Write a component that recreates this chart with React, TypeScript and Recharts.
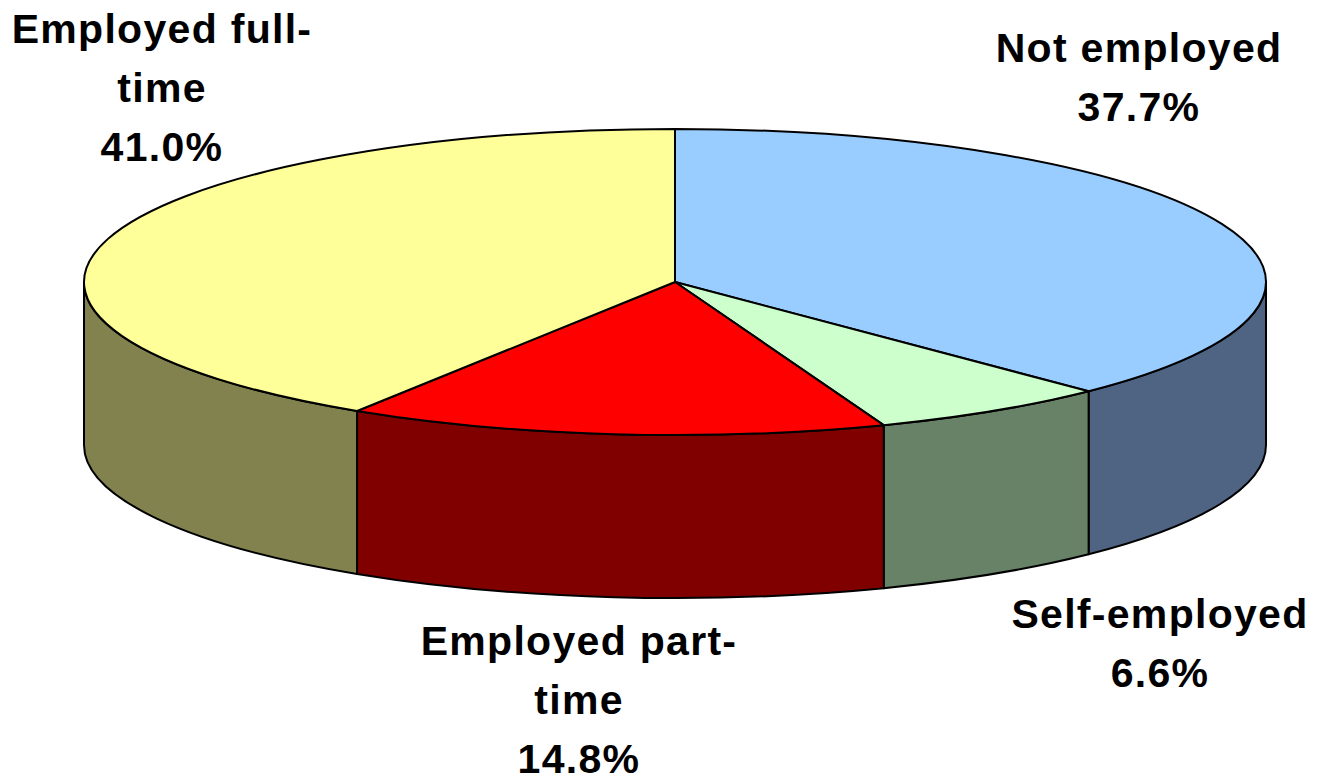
import React from "react";
import { PieChart, Pie, Cell } from "recharts";

const categories = ["Not employed", "Self-employed", "Employed part-time", "Employed full-time"];
const shares = [37.7, 6.6, 14.8, 41.0];
const topColors = ["#99CCFF", "#CCFFCC", "#FF0000", "#FFFF99"];
const wallColors = ["#4F6483", "#678267", "#800000", "#82824E"];
const labelLines = [
  ["Not employed", "37.7%"],
  ["Self-employed", "6.6%"],
  ["Employed part-", "time", "14.8%"],
  ["Employed full-", "time", "41.0%"],
];
const labelAnchors = [
  { x: 1139, y: 62 },
  { x: 1160, y: 628 },
  { x: 579, y: 655 },
  { x: 162, y: 43 },
];

const data = categories.map((name, i) => ({ name, value: shares[i] }));

const WIDTH = 1318;
const HEIGHT = 776;
const CX = 675;
const CY = 282;
const RX = 591;
const RY = 153;
const DEPTH = 163;
const LINE_HEIGHT = 59;

// pie angles are counter-clockwise from 3 o'clock, squash them onto the ellipse
function onEllipse(props: any, angle: number, dy = 0) {
  const rad = (angle * Math.PI) / 180;
  const ratio = RY / RX;
  return {
    x: props.cx + props.outerRadius * Math.cos(rad),
    y: props.cy - props.outerRadius * ratio * Math.sin(rad) + dy,
  };
}

function TopSlice(props: any) {
  const a = onEllipse(props, props.startAngle);
  const b = onEllipse(props, props.endAngle);
  const large = Math.abs(props.endAngle - props.startAngle) > 180 ? 1 : 0;
  const d = `M${props.cx},${props.cy} L${a.x},${a.y} A${RX},${RY} 0 ${large} 1 ${b.x},${b.y} Z`;
  return <path d={d} fill={props.fill} stroke="#000" strokeWidth={2} strokeLinejoin="round" />;
}

// only the part of the arc on the front half of the ellipse has a visible wall
function WallSlice(props: any) {
  const start = Math.min(props.startAngle, 0);
  const end = Math.max(props.endAngle, -180);
  if (start <= end) return <g />;
  const a = onEllipse(props, start);
  const b = onEllipse(props, end);
  const a2 = onEllipse(props, start, DEPTH);
  const b2 = onEllipse(props, end, DEPTH);
  const d = `M${a.x},${a.y} A${RX},${RY} 0 0 1 ${b.x},${b.y} L${b2.x},${b2.y} A${RX},${RY} 0 0 0 ${a2.x},${a2.y} Z`;
  return <path d={d} fill={props.fill} stroke="#000" strokeWidth={2} strokeLinejoin="round" />;
}

function SliceLabel(props: any) {
  const anchor = labelAnchors[props.index];
  return (
    <text
      x={anchor.x}
      y={anchor.y}
      textAnchor="middle"
      fontFamily="Liberation Sans"
      fontWeight="bold"
      fontSize={41}
      letterSpacing={1.3}
      fill="#000"
    >
      {labelLines[props.index].map((line, i) => (
        <tspan key={line} x={anchor.x} dy={i === 0 ? 0 : LINE_HEIGHT}>
          {line}
        </tspan>
      ))}
    </text>
  );
}

export default function App() {
  return (
    <div style={{ position: "absolute", left: 0, top: 0, width: WIDTH, height: HEIGHT, background: "#fff" }}>
      <PieChart width={WIDTH} height={HEIGHT} margin={{ top: 0, right: 0, bottom: 0, left: 0 }}>
        <Pie
          data={data}
          dataKey="value"
          cx={CX}
          cy={CY}
          outerRadius={RX}
          startAngle={90}
          endAngle={-270}
          shape={WallSlice}
          isAnimationActive={false}
        >
          {data.map((d, i) => (
            <Cell key={d.name} fill={wallColors[i]} />
          ))}
        </Pie>
        <Pie
          data={data}
          dataKey="value"
          cx={CX}
          cy={CY}
          outerRadius={RX}
          startAngle={90}
          endAngle={-270}
          shape={TopSlice}
          label={SliceLabel}
          labelLine={false}
          isAnimationActive={false}
        >
          {data.map((d, i) => (
            <Cell key={d.name} fill={topColors[i]} />
          ))}
        </Pie>
      </PieChart>
    </div>
  );
}
